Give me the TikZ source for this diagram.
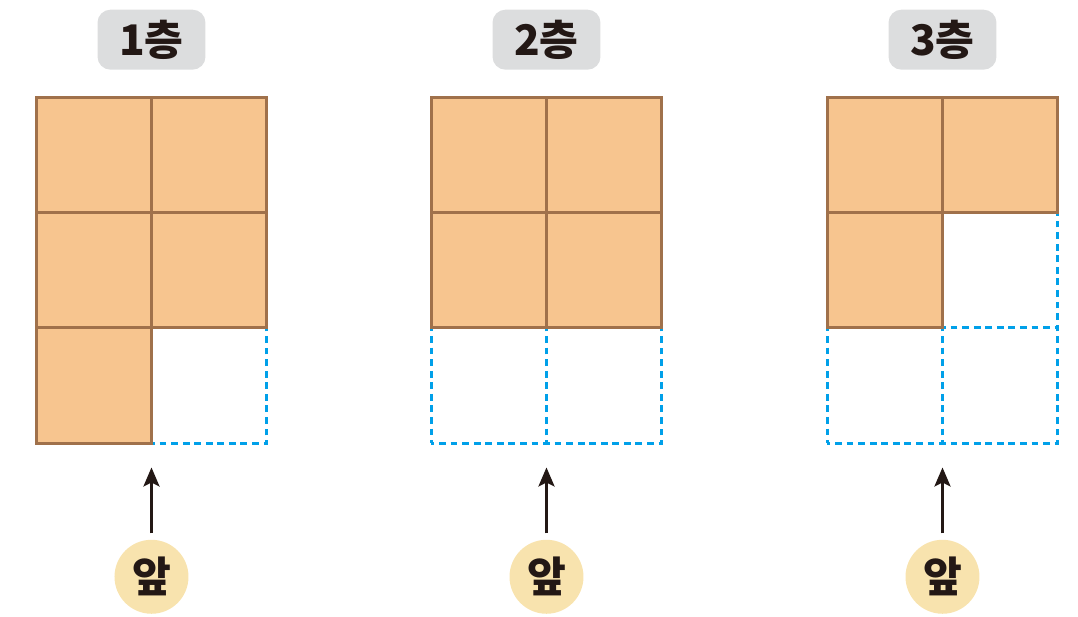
\documentclass[tikz,border=0pt]{standalone}
\usepackage{fontspec}
\newfontfamily\kor{Noto Sans CJK KR}
\usetikzlibrary{arrows.meta, positioning}
\definecolor{blockfill}{HTML}{F7C58F}
\definecolor{blockline}{HTML}{A0714B}
\definecolor{slotline}{HTML}{00A0E9}
\definecolor{taggray}{HTML}{DCDDDE}
\definecolor{frontfill}{HTML}{F8E3AE}
\definecolor{inkdark}{HTML}{231815}
\tikzset{
    slot/.style={rectangle, draw=slotline, line width=0.06cm,
                 dash pattern=on 0.135cm off 0.096cm, dash phase=0.0675cm,
                 minimum size=2.31cm, inner sep=0pt, outer sep=0pt},
    block/.style={rectangle, draw=blockline, fill=blockfill, line width=0.06cm,
                  minimum size=2.31cm, inner sep=0pt, outer sep=0pt},
    floortag/.style={rectangle, rounded corners=0.26cm, fill=taggray, minimum width=2.16cm,
                     minimum height=1.2cm, font=\kor\bfseries\fontsize{24}{24}\selectfont, text=inkdark},
    frontmark/.style={circle, fill=frontfill, minimum size=1.48cm, inner sep=0pt,
                      font=\kor\bfseries\fontsize{24}{24}\selectfont, text=inkdark},
    arrow/.style={-{Stealth[length=0.38cm, width=0.32cm, inset=0.08cm]}, line width=0.06cm, draw=inkdark},
}
\begin{document}
\begin{tikzpicture}[x=0.02cm, y=-0.02cm]
    \useasboundingbox (0,0) rectangle (1078,616);

    % 1st floor: empty slots first, blocks on top
    \node[slot] (s111) at (93.75,154.75) {};
    \node[slot, right=0pt of s111] (s112) {};
    \node[slot, below=0pt of s111] (s121) {};
    \node[slot, right=0pt of s121] (s122) {};
    \node[slot, below=0pt of s121] (s131) {};
    \node[slot, right=0pt of s131] (s132) {};

    \node[block] (b111) at (s111) {};
    \node[block] (b112) at (s112) {};
    \node[block] (b121) at (s121) {};
    \node[block] (b122) at (s122) {};
    \node[block] (b131) at (s131) {};

    \node[floortag, above=0.54cm of s111.north east] (tag1) {1층};
    \node[frontmark, below=1.92cm of s131.south east] (front1) {앞};

    % 2nd floor
    \node[slot] (s211) at (488.75,154.75) {};
    \node[slot, right=0pt of s211] (s212) {};
    \node[slot, below=0pt of s211] (s221) {};
    \node[slot, right=0pt of s221] (s222) {};
    \node[slot, below=0pt of s221] (s231) {};
    \node[slot, right=0pt of s231] (s232) {};

    \node[block] (b211) at (s211) {};
    \node[block] (b212) at (s212) {};
    \node[block] (b221) at (s221) {};
    \node[block] (b222) at (s222) {};

    \node[floortag, above=0.54cm of s211.north east] (tag2) {2층};
    \node[frontmark, below=1.92cm of s231.south east] (front2) {앞};

    % 3rd floor
    \node[slot] (s311) at (884.75,154.75) {};
    \node[slot, right=0pt of s311] (s312) {};
    \node[slot, below=0pt of s311] (s321) {};
    \node[slot, right=0pt of s321] (s322) {};
    \node[slot, below=0pt of s321] (s331) {};
    \node[slot, right=0pt of s331] (s332) {};

    \node[block] (b311) at (s311) {};
    \node[block] (b312) at (s312) {};
    \node[block] (b321) at (s321) {};

    \node[floortag, above=0.54cm of s311.north east] (tag3) {3층};
    \node[frontmark, below=1.92cm of s331.south east] (front3) {앞};

    % viewing direction
    \draw[arrow] ([yshift=0.12cm]front1.north) -- ([yshift=-0.48cm]s131.south east);
    \draw[arrow] ([yshift=0.12cm]front2.north) -- ([yshift=-0.48cm]s231.south east);
    \draw[arrow] ([yshift=0.12cm]front3.north) -- ([yshift=-0.48cm]s331.south east);

\end{tikzpicture}
\end{document}
